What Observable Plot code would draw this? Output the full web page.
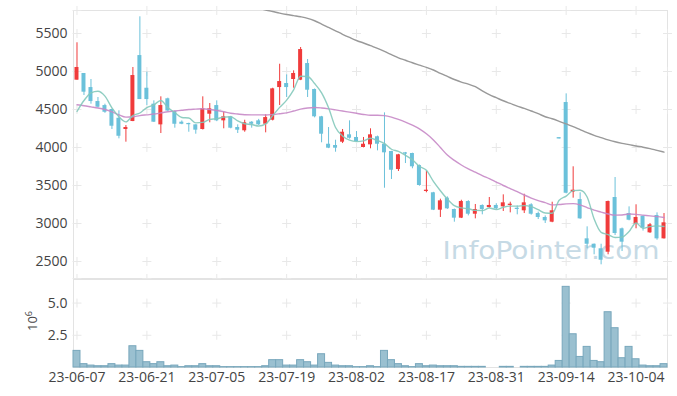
<!DOCTYPE html>
<html><head><meta charset="utf-8">
<script src="https://cdn.jsdelivr.net/npm/d3@7"></script>
<script src="https://cdn.jsdelivr.net/npm/@observablehq/plot@0.6"></script>
<style>
html,body{margin:0;padding:0;background:#fff;}
#chart svg{display:block;}
</style></head><body><div id="chart"></div>
<script>
const dates = ["23-06-07","23-06-08","23-06-09","23-06-12","23-06-13","23-06-14","23-06-15","23-06-16","23-06-19","23-06-20",
"23-06-21","23-06-22","23-06-23","23-06-26","23-06-27","23-06-28","23-06-29","23-06-30","23-07-03","23-07-04",
"23-07-05","23-07-06","23-07-07","23-07-10","23-07-11","23-07-12","23-07-13","23-07-14","23-07-17","23-07-18",
"23-07-19","23-07-20","23-07-21","23-07-24","23-07-25","23-07-26","23-07-27","23-07-28","23-07-31","23-08-01",
"23-08-02","23-08-03","23-08-04","23-08-07","23-08-08","23-08-09","23-08-10","23-08-11","23-08-14","23-08-16",
"23-08-17","23-08-18","23-08-21","23-08-22","23-08-23","23-08-24","23-08-25","23-08-28","23-08-29","23-08-30",
"23-08-31","23-09-01","23-09-04","23-09-05","23-09-06","23-09-07","23-09-08","23-09-11","23-09-12","23-09-13",
"23-09-14","23-09-15","23-09-18","23-09-19","23-09-20","23-09-21","23-09-22","23-09-25","23-09-26","23-09-27",
"23-10-04","23-10-05","23-10-06","23-10-10","23-10-11"];

const open = [4886,4974,4789,4605,4552,4500,4385,4237,4342,5210,
4780,4570,4298,4641,4474,4333,4316,4298,4237,4438,
4552,4351,4404,4263,4220,4333,4351,4306,4359,4789,
4842,4895,4886,5105,4763,4404,4043,4026,4070,4167,
4132,4000,4035,4141,4043,3947,3710,3930,3921,3763,
3421,3404,3175,3333,3184,3070,3289,3122,3237,3210,
3237,3219,3237,3201,3167,3246,3131,3079,3017,4130,
4592,3412,3315,2798,2727,2667,2622,3342,2930,3131,
2990,3096,2877,3105,2798];
const high = [5378,4974,4895,4658,4570,4505,4483,4289,5053,5720,
4991,4614,4667,4650,4480,4350,4320,4300,4667,4579,
4614,4464,4410,4298,4359,4340,4370,4430,4780,5096,
4956,5009,5316,5158,4770,4410,4263,4096,4237,4351,
4210,4132,4246,4150,4456,3950,3910,3935,3925,3770,
3684,3410,3320,3350,3190,3306,3300,3250,3245,3342,
3260,3377,3280,3230,3385,3260,3150,3100,3280,4130,
4706,3746,3404,2956,2730,2727,3295,3605,2940,3219,
3246,3100,3000,3140,3131];
const low = [4886,4684,4570,4520,4450,4237,4114,4070,4340,4631,
4552,4330,4184,4475,4254,4300,4201,4175,4230,4325,
4340,4246,4246,4184,4201,4254,4290,4193,4350,4552,
4658,4780,4880,4658,4390,4062,3985,3938,4052,4110,
4070,3995,3983,3956,3464,3579,3684,3789,3720,3490,
3404,3170,3079,3185,3017,3065,3100,3061,3114,3200,
3185,3158,3140,3114,3131,3110,3052,3000,3010,4112,
3390,3333,3055,2667,2588,2456,2588,2842,2631,3035,
2930,2900,2870,2780,2795];
const close = [5053,4728,4605,4530,4464,4280,4148,4263,4947,4631,
4631,4333,4552,4480,4306,4306,4300,4228,4509,4509,
4351,4404,4254,4228,4325,4306,4298,4394,4772,4868,
4789,4974,5289,4754,4404,4175,3991,3991,4201,4122,
4079,4043,4167,4043,3930,3701,3904,3912,3746,3500,
3438,3175,3298,3193,3070,3289,3122,3184,3184,3237,
3193,3272,3254,3184,3272,3122,3079,3035,3167,4112,
3398,3438,3061,2727,2675,2517,3289,2868,2754,3043,
3079,2938,2983,2798,3009];

// volume in millions
const volume = [1.29,0.26,0.15,0.10,0.10,0.26,0.15,0.15,1.65,1.29,
0.41,0.26,0.41,0.10,0.15,0.03,0.10,0.10,0.26,0.10,
0.10,0.03,0.03,0.03,0.03,0.03,0.03,0.10,0.57,0.57,
0.15,0.15,0.57,0.41,0.15,1.03,0.36,0.15,0.10,0.10,
0.03,0.03,0.10,0.03,1.29,0.57,0.26,0.10,0.03,0.26,
0.10,0.15,0.10,0.10,0.10,0.05,0.05,0.05,0.05,0,
0,0.05,0.05,0,0.05,0.05,0.05,0.05,0.15,0.51,
6.26,2.58,0.82,1.60,0.51,0.41,4.29,3.05,0.72,1.60,
0.64,0.15,0.10,0.10,0.26];

const ma5 = [4474,4618,4720,4740,4676,4521,4405,4337,4420,4454,
4524,4561,4619,4525,4460,4395,4389,4324,4330,4370,
4379,4400,4405,4349,4312,4303,4282,4310,4419,4528,
4624,4759,4938,4935,4842,4719,4523,4263,4152,4096,
4077,4087,4122,4091,4052,3977,3949,3898,3839,3753,
3700,3554,3431,3321,3235,3205,3194,3172,3170,3203,
3184,3214,3228,3228,3235,3221,3182,3138,3135,3305,
3360,3432,3437,3349,3060,2884,2854,2815,2821,2894,
3007,2936,2959,2968,2961];
const ma20 = [4562,4550,4535,4520,4500,4470,4430,4400,4405,4420,
4430,4440,4455,4470,4480,4490,4500,4505,4510,4500,
4487,4470,4450,4440,4432,4430,4430,4428,4435,4445,
4456,4480,4505,4520,4526,4520,4509,4495,4480,4465,
4450,4435,4425,4425,4420,4400,4370,4335,4295,4246,
4180,4100,4000,3900,3830,3770,3720,3675,3630,3590,
3545,3500,3460,3420,3375,3335,3300,3275,3245,3250,
3258,3262,3245,3210,3175,3150,3125,3110,3112,3125,
3120,3110,3100,3090,3078];
const ma60 = [null,null,null,null,null,null,null,null,null,null,
null,null,null,null,null,null,null,null,null,null,
null,null,null,null,null,null,5830,5810,5790,5768,
5750,5735,5720,5700,5668,5625,5580,5535,5490,5448,
5408,5375,5340,5305,5265,5222,5180,5148,5115,5085,
5055,5020,4975,4935,4895,4860,4835,4800,4745,4695,
4655,4615,4580,4545,4515,4480,4445,4405,4378,4345,
4310,4275,4235,4195,4160,4130,4100,4075,4055,4038,
4020,4004,3985,3962,3940];

const priceTicks = [2500,3000,3500,4000,4500,5000,5500];
const volTicks = [2.5,5.0];
const xTicks = ["23-06-07","23-06-21","23-07-05","23-07-19","23-08-02","23-08-17","23-08-31","23-09-14","23-10-04"];

const RED = "#f03b3b", BLUE = "#6bc1da";
const rows = dates.map((d,i)=>({date:d, open:open[i], high:high[i], low:low[i], close:close[i],
  volume:volume[i], ma5:ma5[i], ma20:ma20[i], ma60:ma60[i],
  color: close[i] > open[i] ? RED : BLUE}));

const FONT = "'Open Sans', 'Noto Sans', sans-serif";
const W = 677, ML = 73, MR = 10;
const gridColor = "#e8e8e8";
const plus = {symbol:"plus", r:3, stroke:gridColor, strokeWidth:1};

const priceGrid = xTicks.flatMap(x => priceTicks.map(y => ({x, y})));
const price = Plot.plot({
  width: W, height: 279, marginTop: 10, marginBottom: 1, marginLeft: ML, marginRight: MR,
  style: {fontFamily: FONT, fontSize: "14px", color: "#444", background: "#fff"},
  color: {type: "identity"},
  x: {type: "band", domain: dates, padding: 0, axis: null},
  y: {domain: [2276, 5803], ticks: priceTicks, tickSize: 0, tickPadding: 6, label: null, tickFormat: d => String(d)},
  marks: [
    Plot.frame({stroke: "#e3e3e3"}),
    Plot.dot(priceGrid, {x: "x", y: "y", ...plus}),
    Plot.dot(priceTicks, {y: d => d, frameAnchor: "right", ...plus}),
    Plot.dot(xTicks, {x: d => d, frameAnchor: "top", ...plus}),
    Plot.dot(xTicks, {x: d => d, frameAnchor: "bottom", ...plus}),
    Plot.text(["InfoPointer.com"], {frameAnchor: "bottom-right", textAnchor: "end", lineAnchor: "bottom",
      dx: -8, dy: -20, fontSize: 24, fontFamily: "'DejaVu Sans', sans-serif", fill: "#c6dae5", className: "wm"}),
    Plot.ruleX(rows, {x: "date", y1: "low", y2: "high", stroke: "color", strokeWidth: 1}),
    Plot.barY(rows, {x: "date", y1: "open", y2: "close", fill: "color", insetLeft: 1.5, insetRight: 1.5}),
    Plot.line(rows, {x: "date", y: "ma60", stroke: "#999999", strokeWidth: 1.4, curve: "monotone-x", clip: true}),
    Plot.line(rows, {x: "date", y: "ma20", stroke: "#c688c6", strokeWidth: 1.4, strokeOpacity: 0.9, curve: "monotone-x"}),
    Plot.line(rows, {x: "date", y: "ma5", stroke: "#84c9bb", strokeWidth: 1.4, strokeOpacity: 0.9, curve: "monotone-x"})
  ]
});
d3.select(price).selectAll(".wm text").attr("textLength", 217).attr("lengthAdjust", "spacingAndGlyphs");

const volGrid = xTicks.flatMap(x => volTicks.map(y => ({x, y})));
const vol = Plot.plot({
  width: W, height: 117, marginTop: 0, marginBottom: 29, marginLeft: ML, marginRight: MR,
  style: {fontFamily: FONT, fontSize: "14px", color: "#444", background: "#fff"},
  x: {type: "band", domain: dates, padding: 0, ticks: xTicks, tickSize: 0, tickPadding: 5, label: null},
  y: {domain: [0, 6.83], ticks: volTicks, tickFormat: d3.format(".1f"), tickSize: 0, tickPadding: 6, label: null},
  marks: [
    Plot.frame({stroke: "#e3e3e3"}),
    Plot.dot(volGrid, {x: "x", y: "y", ...plus}),
    Plot.dot(volTicks, {y: d => d, frameAnchor: "right", ...plus}),
    Plot.barY(rows, {x: "date", y: "volume", fill: "#9ac0d0", stroke: "#78a7bc", strokeWidth: 1})
  ]
});
const lab = d3.select(vol).append("text")
  .attr("transform", "translate(37,42) rotate(-90)")
  .attr("text-anchor", "middle")
  .attr("fill", "#444")
  .style("font-family", FONT).style("font-size", "13px");
lab.append("tspan").text("10");
lab.append("tspan").attr("dy", "-0.55em").style("font-size", "9px").text("6");

document.getElementById("chart").append(price, vol);
</script></body></html>
